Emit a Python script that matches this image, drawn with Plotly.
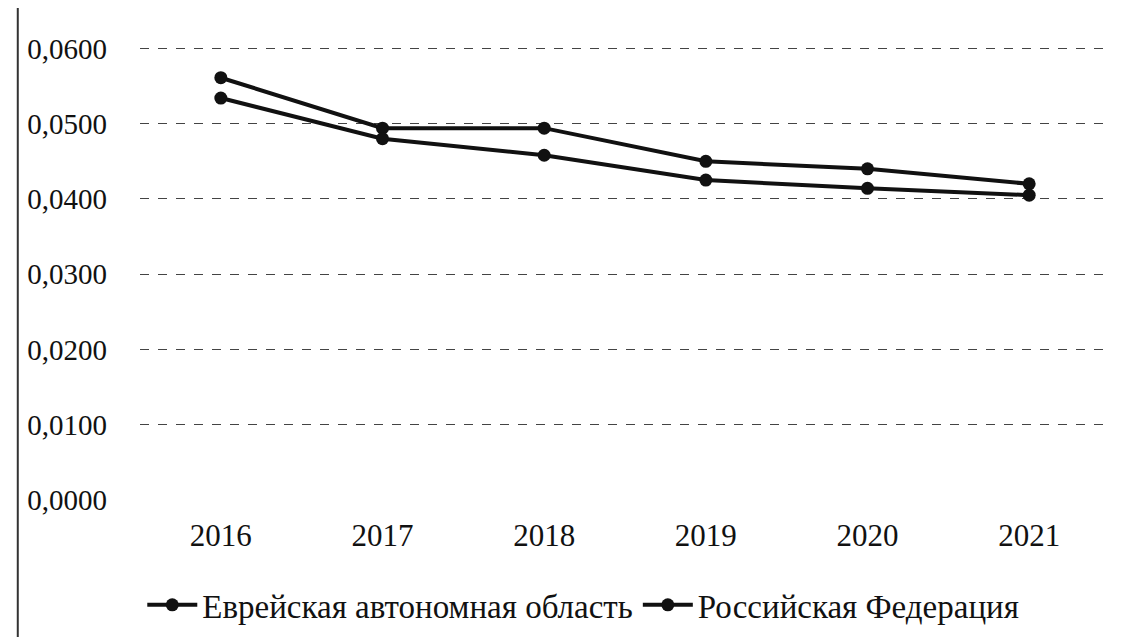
import plotly.graph_objects as go

years = ["2016", "2017", "2018", "2019", "2020", "2021"]
jao = [0.0561, 0.0494, 0.0494, 0.0450, 0.0440, 0.0420]
rf = [0.0534, 0.0480, 0.0458, 0.0425, 0.0414, 0.0405]
series_names = ["Еврейская автономная область", "Российская Федерация"]
y_ticks = [0.0, 0.01, 0.02, 0.03, 0.04, 0.05, 0.06]
y_tick_labels = ["0,0000", "0,0100", "0,0200", "0,0300", "0,0400", "0,0500", "0,0600"]

fig = go.Figure()
for name, vals in zip(series_names, [jao, rf]):
    fig.add_trace(go.Scatter(
        x=years, y=vals, name=name, mode="lines+markers",
        line=dict(color="#111111", width=4),
        marker=dict(color="#111111", size=13),
    ))

font = "Liberation Serif, DejaVu Serif, serif"
fig.update_layout(
    width=1128, height=637,
    paper_bgcolor="white", plot_bgcolor="white",
    margin=dict(l=132, r=26, t=8, b=145),
    font=dict(family=font, size=30, color="#111111"),
    showlegend=True,
    legend=dict(orientation="h", xref="container", x=0.51, xanchor="center",
                yref="container", y=0.063, yanchor="middle",
                font=dict(family=font, size=33, color="#111111"),
                itemwidth=50, tracegroupgap=0),
    xaxis=dict(type="category", range=[-0.5, 5.5], showgrid=False, showline=False, ticks="",
               tickfont=dict(family=font, size=31), ticklabelstandoff=14),
    yaxis=dict(range=[0, 0.0643], tickvals=y_ticks, ticktext=y_tick_labels,
               showgrid=True, gridcolor="#444444", griddash="dash", gridwidth=1,
               zeroline=False, showline=False, ticks="",
               tickfont=dict(family=font, size=29), ticklabelstandoff=32),
    shapes=[dict(type="line", xref="paper", yref="paper",
                 x0=-0.126, x1=-0.126, y0=-0.32, y1=1.03,
                 line=dict(color="#333333", width=2))],
)

fig.write_html("out.html")
